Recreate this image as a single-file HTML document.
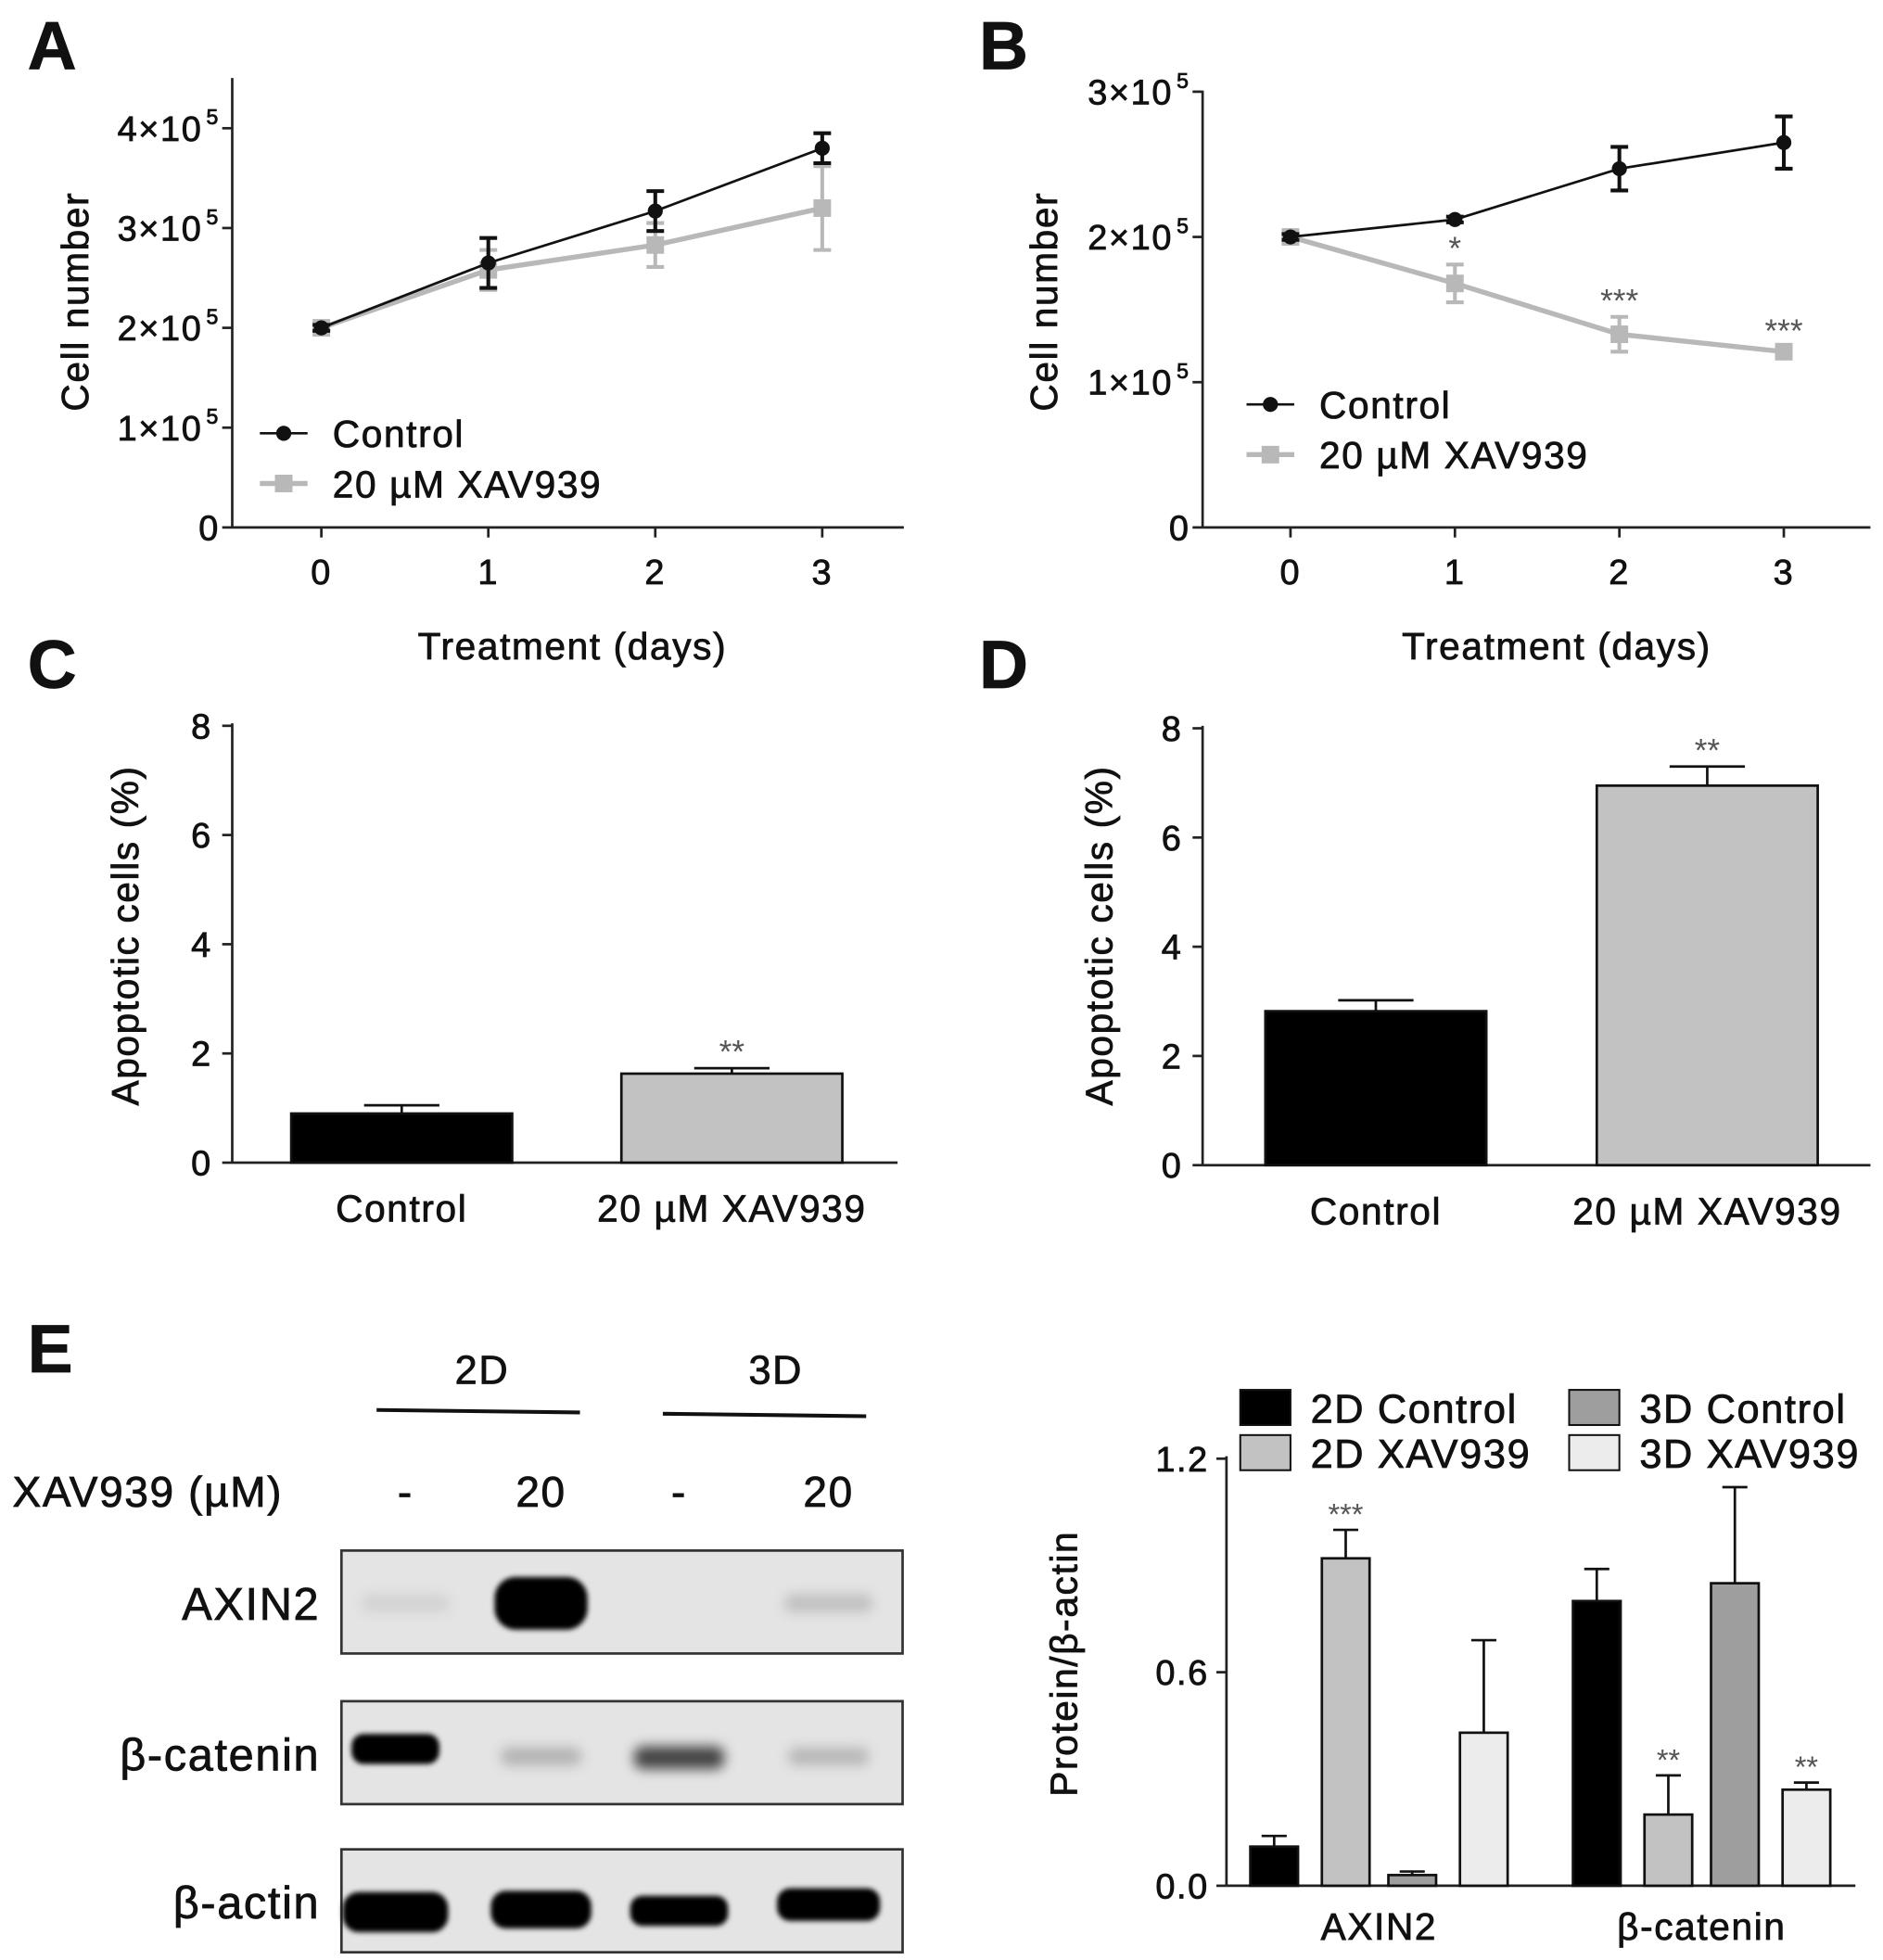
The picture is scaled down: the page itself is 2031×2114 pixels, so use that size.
<!DOCTYPE html>
<html><head><meta charset="utf-8"><style>
html,body{margin:0;padding:0;background:#fff;}
svg{display:block;font-family:"Liberation Sans",Arial,sans-serif;}
svg text{stroke:#111;stroke-width:0.6;letter-spacing:1.2px;}
svg text.star{stroke:none;letter-spacing:0;}
</style></head><body>
<svg id="fig" width="2031" height="2114" viewBox="0 0 1500 1561">
<defs>
<filter id="blur" x="-50%" y="-100%" width="200%" height="300%"><feGaussianBlur stdDeviation="5"/></filter>
<filter id="blur2" x="-50%" y="-100%" width="200%" height="300%"><feGaussianBlur stdDeviation="2"/></filter>
</defs>
<g id="root"></g>
</svg>
<script>
// ---- Panel A data ----
const daysA = [0,1,2,3];
const ctrlA = [2.0,2.65,3.17,3.8];
const ctrlAErr = [0.03,0.25,0.2,0.15];
const xavA = [2.0,2.58,2.83,3.2];
const xavAErr = [0.03,0.2,0.22,0.42];
const yTicksA = [0,1,2,3,4];
// ---- Panel B data ----
const daysB = [0,1,2,3];
const ctrlB = [2.0,2.12,2.47,2.65];
const ctrlBErr = [0.02,0.02,0.15,0.18];
const xavB = [2.0,1.68,1.33,1.21];
const xavBErr = [0.02,0.13,0.12,0.03];
const starsB = ["","*","***","***"];
const yTicksB = [0,1,2,3];
// ---- Panel C/D data ----
const groupsCD = ["Control","20 µM XAV939"];
const valsC = [0.9,1.63];
const errC = [0.15,0.1];
const starsC = ["","**"];
const valsD = [2.82,6.95];
const errD = [0.2,0.35];
const starsD = ["","**"];
const yTicksCD = [0,2,4,6,8];
// ---- Panel E bar data ----
const proteinsE = ["AXIN2","β-catenin"];
const seriesE = ["2D Control","2D XAV939","3D Control","3D XAV939"];
const valsE = [[0.11,0.92,0.03,0.43],[0.80,0.2,0.85,0.27]];
const errE = [[0.03,0.08,0.01,0.26],[0.09,0.11,0.27,0.02]];
const starsE = [["","***","",""],["","**","","**"]];
const yTicksE = [0.0,0.6,1.2];

const NS="http://www.w3.org/2000/svg";
const root=document.getElementById('root');
function el(tag,attrs,parent,text){const e=document.createElementNS(NS,tag);for(const k in attrs)e.setAttribute(k,attrs[k]);if(text!==undefined)e.textContent=text;(parent||root).appendChild(e);return e;}
function txt(x,y,s,size,anchor,parent,extra){const t=el('text',Object.assign({x:x,y:y,'font-size':size,'text-anchor':anchor||'middle',fill:'#111'},extra||{}),parent,s);return t;}
function star(x,y,s,size,parent){const t=txt(x,y,s,size,'middle',parent,{fill:'#555'});t.setAttribute('class','star');return t;}

function sci(t,x,y,g){
  if(t===0){txt(x,y,"0",28,'end',g);return;}
  const T=el('text',{x:x,y:y,'font-size':28,'text-anchor':'end',fill:'#111'},g);
  T.appendChild(document.createTextNode(t+"×10"));
  const s=document.createElementNS(NS,'tspan');s.setAttribute('font-size','17');s.setAttribute('dy','-13');s.setAttribute('dx','3');s.textContent="5";T.appendChild(s);
}

[["A",22,55],["B",780,55],["C",22,548],["D",780,548],["E",22,1093]].forEach(p=>{
  const t=txt(p[1],p[2],p[0],54,'start',root,{'font-weight':'bold'});
  
  
});

function linePanel(cfg){
  const g=el('g',{});
  
  
  const X=d=>cfg.x0+d*cfg.dx, Y=v=>cfg.y0-v*cfg.dy;
  el('line',{x1:cfg.ax,y1:cfg.ytop,x2:cfg.ax,y2:cfg.y0,stroke:'#222','stroke-width':2},g);
  el('line',{x1:cfg.ax,y1:cfg.y0,x2:cfg.xend,y2:cfg.y0,stroke:'#222','stroke-width':2},g);
  cfg.yt.forEach(t=>{el('line',{x1:cfg.ax-8,y1:Y(t),x2:cfg.ax,y2:Y(t),stroke:'#222','stroke-width':2},g);sci(t,cfg.ax-10,Y(t)+10,g);});
  cfg.days.forEach(d=>{el('line',{x1:X(d),y1:cfg.y0,x2:X(d),y2:cfg.y0+8,stroke:'#222','stroke-width':2},g);txt(X(d),cfg.y0+45,String(d),28,'middle',g);});
  const xt=txt(cfg.xtx,cfg.y0+105,"Treatment (days)",30,'middle',g);
  
  const yt=txt(0,0,"Cell number",30,'middle',g,{transform:`translate(${cfg.ytx},${cfg.yty}) rotate(-90)`});
  
  const series=[[cfg.xav,cfg.xavErr,'#b8b8b8','sq'],[cfg.ctrl,cfg.ctrlErr,'#111','ci']];
  series.forEach(s=>{
    const sg=el('g',{},g);
    
    
    let pts=cfg.days.map((d,i)=>X(d)+','+Y(s[0][i])).join(' ');
    el('polyline',{points:pts,fill:'none',stroke:s[2],'stroke-width':s[3]==='sq'?4:2},sg);
    cfg.days.forEach((d,i)=>{
      const x=X(d),y=Y(s[0][i]),e=s[1][i]*cfg.dy,w=3;
      el('line',{x1:x,y1:y-e,x2:x,y2:y+e,stroke:s[2],'stroke-width':w},sg);
      el('line',{x1:x-7,y1:y-e,x2:x+7,y2:y-e,stroke:s[2],'stroke-width':w},sg);
      el('line',{x1:x-7,y1:y+e,x2:x+7,y2:y+e,stroke:s[2],'stroke-width':w},sg);
      if(s[3]==='sq')el('rect',{x:x-7,y:y-7,width:14,height:14,fill:s[2]},sg);
      else el('circle',{cx:x,cy:y,r:6,fill:s[2]},sg);
    });
  });
  if(cfg.stars)cfg.days.forEach((d,i)=>{if(cfg.stars[i])star(X(d),Y(cfg.xav[i])-cfg.xavErr[i]*cfg.dy-4,cfg.stars[i],26,g);});
  const lg=el('g',{},g);
  el('line',{x1:cfg.lx,y1:cfg.ly,x2:cfg.lx+38,y2:cfg.ly,stroke:'#111','stroke-width':2},lg);
  el('circle',{cx:cfg.lx+19,cy:cfg.ly,r:6,fill:'#111'},lg);
  txt(cfg.lx+58,cfg.ly+11,"Control",30,'start',lg);
  el('line',{x1:cfg.lx,y1:cfg.ly+40,x2:cfg.lx+38,y2:cfg.ly+40,stroke:'#b8b8b8','stroke-width':4},lg);
  el('rect',{x:cfg.lx+12,y:cfg.ly+33,width:14,height:14,fill:'#b8b8b8'},lg);
  txt(cfg.lx+58,cfg.ly+51,"20 µM XAV939",30,'start',lg);
}
linePanel({name:'panel-a-chart',ax:185,ytop:62,y0:420,xend:720,x0:256,dx:133,dy:79.5,yt:yTicksA,days:daysA,ctrl:ctrlA,ctrlErr:ctrlAErr,xav:xavA,xavErr:xavAErr,xtx:456,ytx:70,yty:240,lx:207,ly:345});
linePanel({name:'panel-b-chart',ax:958,ytop:72,y0:420,xend:1490,x0:1028,dx:131,dy:115.7,yt:yTicksB,days:daysB,ctrl:ctrlB,ctrlErr:ctrlBErr,xav:xavB,xavErr:xavBErr,stars:starsB,xtx:1240,ytx:842,yty:240,lx:993,ly:322});

function barPanel(cfg){
  const g=el('g',{});
  
  const Y=v=>cfg.y0-v*cfg.dy;
  el('line',{x1:cfg.ax,y1:Y(8)-2,x2:cfg.ax,y2:cfg.y0,stroke:'#222','stroke-width':2},g);
  el('line',{x1:cfg.ax,y1:cfg.y0,x2:cfg.xend,y2:cfg.y0,stroke:'#222','stroke-width':2},g);
  yTicksCD.forEach(t=>{el('line',{x1:cfg.ax-8,y1:Y(t),x2:cfg.ax,y2:Y(t),stroke:'#222','stroke-width':2},g);txt(cfg.ax-16,Y(t)+10,String(t),28,'end',g);});
  const yt=txt(0,0,"Apoptotic cells (%)",30,'middle',g,{transform:`translate(${cfg.ytx},${cfg.yty}) rotate(-90)`});
  
  const fills=['#000','#c2c2c2'];
  groupsCD.forEach((name,i)=>{
    const x=cfg.bx[i],w=176,v=cfg.vals[i],e=cfg.err[i]*cfg.dy,cx=x+w/2;
    el('line',{x1:cx,y1:Y(v),x2:cx,y2:Y(v)-e,stroke:'#111','stroke-width':2},g);
    el('line',{x1:cx-30,y1:Y(v)-e,x2:cx+30,y2:Y(v)-e,stroke:'#111','stroke-width':2},g);
    const b=el('rect',{x:x,y:Y(v),width:w,height:v*cfg.dy,fill:fills[i],stroke:'#111','stroke-width':2},g);
    
    txt(cx,cfg.y0+47,name,30,'middle',g);
    if(cfg.stars[i])star(cx,Y(v)-e-4,cfg.stars[i],26,g);
  });
}
barPanel({name:'panel-c-chart',ax:185,y0:926,dy:43.5,xend:715,bx:[232,495],vals:valsC,err:errC,stars:starsC,ytx:110,yty:745});
barPanel({name:'panel-d-chart',ax:958,y0:928,dy:43.5,xend:1490,bx:[1008,1272],vals:valsD,err:errD,stars:starsD,ytx:886,yty:745});

(function(){
  const g=el('g',{});
  txt(384,1102,"2D",32,'middle',g);txt(618,1102,"3D",32,'middle',g);
  el('line',{x1:300,y1:1123,x2:462,y2:1125,stroke:'#111','stroke-width':3},g);
  el('line',{x1:528,y1:1126,x2:690,y2:1128,stroke:'#111','stroke-width':3},g);
  txt(10,1200,"XAV939 (µM)",34,'start',g);
  [["-",323],["20",431],["-",541],["20",660]].forEach(p=>txt(p[1],1200,p[0],34,'middle',g));
  const lanes=[323,431,541,660];
  // [opacity, width, height, yoffset]
  const rows=[["AXIN2",1235,[[0.08,70,14,42],[1,74,42,42],[0,0,0,0],[0.16,70,14,42]]],
              ["β-catenin",1355,[[1,70,24,38],[0.22,64,14,44],[0.7,72,18,45],[0.2,64,14,44]]],
              ["β-actin",1473,[[1,84,32,50],[1,80,30,48],[1,78,24,49],[1,82,26,44]]]];
  rows.forEach(r=>{
    const rg=el('g',{},g);
    txt(255,r[1]+55,r[0],36,'end',rg);
    el('rect',{x:272,y:r[1],width:447,height:82,fill:'#e4e4e4',stroke:'#333','stroke-width':2},rg);
    r[2].forEach((b,i)=>{ if(b[0]>0){
      el('rect',{x:lanes[i]-b[1]/2+(i===0&&r[0]!=='AXIN2'?-8:0),y:r[1]+b[3]-b[2]/2,width:b[1],height:b[2],rx:b[2]/2.5,fill:'#000','fill-opacity':b[0],filter:b[0]>0.9?'url(#blur2)':'url(#blur)'},rg);
    }});
  });
})();

(function(){
  const g=el('g',{});
  const ax=977,y0=1502,dy=283.5,Y=v=>y0-v*dy;
  el('line',{x1:ax,y1:Y(1.2)-2,x2:ax,y2:y0,stroke:'#222','stroke-width':2},g);
  el('line',{x1:ax,y1:y0,x2:1478,y2:y0,stroke:'#222','stroke-width':2},g);
  yTicksE.forEach(t=>{el('line',{x1:ax-8,y1:Y(t),x2:ax,y2:Y(t),stroke:'#222','stroke-width':2},g);txt(ax-14,Y(t)+10,t.toFixed(1),28,'end',g);});
  const yt=txt(0,0,"Protein/β-actin",30,'middle',g,{transform:`translate(858,1325) rotate(-90)`});
  
  const fills=['#000','#c2c2c2','#9e9e9e','#ececec'];
  const gx=[996,1253],off=57,w=38;
  proteinsE.forEach((p,gi)=>{
    seriesE.forEach((s,si)=>{
      const x=gx[gi]+si*off-(si>=2?4:0),v=valsE[gi][si],e=errE[gi][si]*dy,cx=x+w/2;
      el('line',{x1:cx,y1:Y(v),x2:cx,y2:Y(v)-e,stroke:'#111','stroke-width':2},g);
      el('line',{x1:cx-10,y1:Y(v)-e,x2:cx+10,y2:Y(v)-e,stroke:'#111','stroke-width':2},g);
      const b=el('rect',{x:x,y:Y(v),width:w,height:v*dy,fill:fills[si],stroke:'#111','stroke-width':2},g);
      
      if(starsE[gi][si])star(cx,Y(v)-e-4,starsE[gi][si],24,g);
    });
    txt(gx[gi]+off*1.5+w/2-2,1545,p,30,'middle',g);
  });
  const lg=el('g',{},g);
  const lp=[[988,1107],[988,1143],[1250,1107],[1250,1143]];
  seriesE.forEach((s,si)=>{
    el('rect',{x:lp[si][0],y:lp[si][1],width:40,height:28,fill:fills[si],stroke:'#111','stroke-width':1.5},lg);
    txt(lp[si][0]+56,lp[si][1]+26,s,32,'start',lg);
  });
})();
</script>
</body></html>
